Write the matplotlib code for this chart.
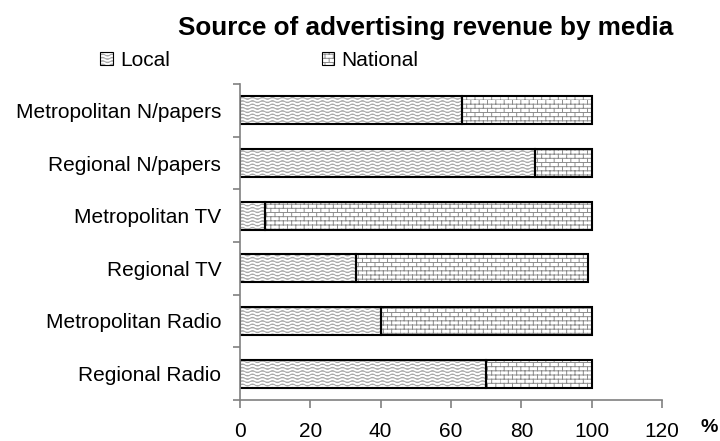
import warnings
import numpy as np
import matplotlib
matplotlib.use("Agg")
import matplotlib.pyplot as plt
import matplotlib.hatch as mhatch
from matplotlib.path import Path
from matplotlib.patches import Patch
from matplotlib.legend_handler import HandlerTuple

warnings.filterwarnings("ignore", message=".*hatch must consist.*")

# ---- data -------------------------------------------------------------
categories = ["Metropolitan N/papers", "Regional N/papers", "Metropolitan TV",
              "Regional TV", "Metropolitan Radio", "Regional Radio"]
local = [63, 84, 7, 33, 40, 70]
national = [37, 16, 93, 66, 60, 30]
series_names = ["Local", "National"]
x_ticks = [0, 20, 40, 60, 80, 100, 120]


# ---- custom fill textures (wavy lines and brickwork) -------------------
class WaveHatch(mhatch.HatchPatternBase):
    def __init__(self, hatch, density):
        self.rows = 30 if "w" in hatch else 0
        self.seg = 128
        self.num_vertices = self.rows * (self.seg + 1)

    def set_vertices_and_codes(self, vertices, codes):
        x = np.linspace(0.0, 1.0, self.seg + 1)
        amp = 0.3 / max(self.rows, 1)
        k = 0
        for i in range(self.rows):
            y0 = (i + 0.5) / self.rows
            vertices[k:k + self.seg + 1, 0] = x
            vertices[k:k + self.seg + 1, 1] = y0 + amp * np.sin(2 * np.pi * 10 * x)
            codes[k] = Path.MOVETO
            codes[k + 1:k + self.seg + 1] = Path.LINETO
            k += self.seg + 1


class BrickHatch(mhatch.HatchPatternBase):
    def __init__(self, hatch, density):
        self.rows = 24 if "k" in hatch else 0
        self.cols = 12
        self.num_vertices = 2 * (self.rows + self.rows * self.cols)

    def set_vertices_and_codes(self, vertices, codes):
        k = 0
        for i in range(self.rows):
            y0 = i / self.rows
            y1 = (i + 1) / self.rows
            vertices[k] = (0.0, y0)
            vertices[k + 1] = (1.0, y0)
            codes[k] = Path.MOVETO
            codes[k + 1] = Path.LINETO
            k += 2
            off = 0.5 * (i % 2)
            for j in range(self.cols):
                xv = (j + off) / self.cols
                vertices[k] = (xv, y0)
                vertices[k + 1] = (xv, y1)
                codes[k] = Path.MOVETO
                codes[k + 1] = Path.LINETO
                k += 2


mhatch._hatch_types.extend([WaveHatch, BrickHatch])

plt.rcParams["font.family"] = ["Liberation Sans", "DejaVu Sans"]
plt.rcParams["hatch.linewidth"] = 0.7

WAVE_GRAY = "#a6a6a6"
BRICK_GRAY = "#8c8c8c"
AXIS_GRAY = "#808080"
BAR_H = 0.53

fig = plt.figure(figsize=(7.2, 4.41), dpi=100)
ax = fig.add_axes([240 / 720, 41 / 441, 422 / 720, 316 / 441])

y = np.arange(len(categories))
left_nat = np.array(local)

# textured fills
ax.barh(y, local, height=BAR_H, color="white", edgecolor=WAVE_GRAY,
        linewidth=0, hatch="w")
ax.barh(y, national, left=left_nat, height=BAR_H, color="white",
        edgecolor=BRICK_GRAY, linewidth=0, hatch="k")
# black outlines
ax.barh(y, local, height=BAR_H, fill=False, edgecolor="black", linewidth=1.5)
ax.barh(y, national, left=left_nat, height=BAR_H, fill=False,
        edgecolor="black", linewidth=1.5)

ax.set_xlim(0, 120)
ax.set_ylim(len(categories) - 0.5, -0.5)

for s in ("top", "right"):
    ax.spines[s].set_visible(False)
for s in ("left", "bottom"):
    ax.spines[s].set_color(AXIS_GRAY)
    ax.spines[s].set_linewidth(1.2)

ax.set_yticks(y, categories)
ax.set_yticks(np.arange(-0.5, len(categories), 1.0), minor=True)
ax.tick_params(axis="y", which="major", length=0, pad=13.5, labelsize=15)
ax.tick_params(axis="y", which="minor", length=5, width=1.2,
               color=AXIS_GRAY, direction="out")

ax.set_xticks(x_ticks, [str(v) for v in x_ticks])
ax.tick_params(axis="x", which="major", length=6, width=1.2,
               color=AXIS_GRAY, direction="out", pad=9.5, labelsize=15)

fig.text(425.5 / 720, 1 - 28 / 441, "Source of advertising revenue by media",
         ha="center", va="center", fontsize=18.8, fontweight="bold")
fig.text(709 / 720, 1 - 427 / 441, "%", ha="center", va="center",
         fontsize=14, fontweight="bold")

# legend: textured square with thin black border
handles = []
for h, c in (("w", WAVE_GRAY), ("k", BRICK_GRAY)):
    fill = Patch(facecolor="white", edgecolor=c, linewidth=0, hatch=h)
    edge = Patch(facecolor="none", edgecolor="black", linewidth=0.8)
    handles.append((fill, edge))
fig.legend(handles, series_names,
           handler_map={tuple: HandlerTuple(ndivide=1, pad=0)},
           loc="center left", bbox_to_anchor=(100 / 720, 1 - 60 / 441),
           ncol=2, frameon=False, fontsize=15, borderpad=0, borderaxespad=0,
           handlelength=0.6, handleheight=0.6, handletextpad=0.35,
           columnspacing=7.3)

fig.savefig("out.png", dpi=100)
